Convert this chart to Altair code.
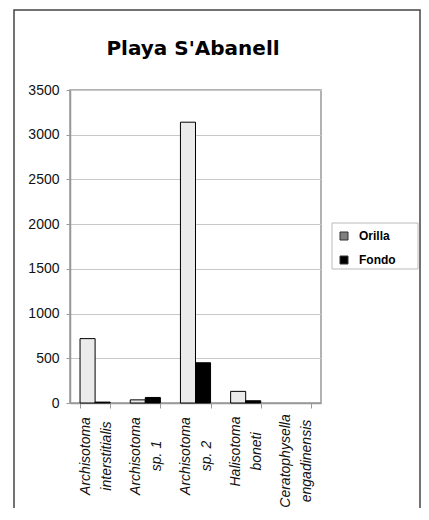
import altair as alt
import pandas as pd

# ---- data ----
species = [
    "Archisotoma interstitialis",
    "Archisotoma sp. 1",
    "Archisotoma sp. 2",
    "Halisotoma boneti",
    "Ceratophysella engadinensis",
]
series = ["Orilla", "Fondo"]
orilla = [720, 35, 3140, 130, 0]
fondo = [10, 62, 450, 25, 0]
y_ticks = [0, 500, 1000, 1500, 2000, 2500, 3000, 3500]
chart_title = "Playa S'Abanell"

rows = []
for sp, o, f in zip(species, orilla, fondo):
    rows.append({"Especie": sp, "Zona": "Orilla", "Serie": "Orilla", "N": o})
    rows.append({"Especie": sp, "Zona": "Fondo", "Serie": "Fondo", "N": f})
df = pd.DataFrame(rows)
df_bars = df[df["N"] > 0]

W, H = 251, 313
FONT = "Liberation Sans"

pad_expr = ("datum.value == 'Halisotoma boneti' ? 43 : "
            "(datum.value == 'Ceratophysella engadinensis' ? 52.5 : 47.5)")

x_enc = alt.X(
    "Especie:N",
    sort=species,
    title=None,
    scale=alt.Scale(domain=species, paddingInner=0.4, paddingOuter=0.2),
    axis=alt.Axis(
        labelAngle=270,
        labelAlign="center",
        labelBaseline="middle",
        labelFont=FONT,
        labelFontStyle="italic",
        labelFontSize=14,
        labelLineHeight=21,
        labelColor="#111111",
        labelExpr="[slice(datum.label, 0, indexof(datum.label, ' ')), slice(datum.label, indexof(datum.label, ' ') + 1)]",
        labelPadding={"expr": pad_expr},
        labelOffset=-10,
        labelOverlap=False,
        tickBand="extent",
        tickSize=5,
        tickColor="#999999",
        domainColor="#999999",
        domainWidth=1.5,
        grid=False,
    ),
)
y_enc = alt.Y(
    "N:Q",
    title=None,
    scale=alt.Scale(domain=[0, 3500], nice=False),
    axis=alt.Axis(
        values=y_ticks,
        format="d",
        labelFont=FONT,
        labelFontSize=14,
        labelColor="#111111",
        labelPadding=7,
        tickSize=4,
        tickColor="#999999",
        domainColor="#999999",
        domainWidth=1.5,
        gridColor="#c8c8c8",
        gridWidth=1,
    ),
)

bars = alt.Chart(df_bars).mark_bar(stroke="black", strokeWidth=1).encode(
    x=x_enc,
    xOffset=alt.XOffset("Zona:N", sort=series,
                        scale=alt.Scale(domain=series, paddingInner=0, paddingOuter=0)),
    y=y_enc,
    fill=alt.Fill("Zona:N", scale=alt.Scale(domain=series, range=["#ebebeb", "#000000"]),
                  legend=None),
)

legend_layer = alt.Chart(df).mark_square(opacity=0, size=64).encode(
    x=x_enc,
    y=y_enc,
    color=alt.Color(
        "Serie:N",
        scale=alt.Scale(domain=series, range=["#808080", "#000000"]),
        legend=alt.Legend(
            title=None,
            orient="none",
            legendX=268,
            legendY=140,
            padding=0,
            symbolType="square",
            symbolSize=64,
            symbolOpacity=1,
            symbolStrokeColor="#333333",
            symbolStrokeWidth=1,
            labelFont=FONT,
            labelFontSize=12,
            labelFontWeight="bold",
            labelColor="#000000",
            labelOffset=9,
            rowPadding=12,
        ),
    ),
)

one = pd.DataFrame({"t": [chart_title]})

title_layer = alt.Chart(one).mark_text(
    font="DejaVu Sans", fontSize=20, fontWeight="bold", color="black",
    align="center", baseline="alphabetic",
).encode(text="t:N", x=alt.value(123), y=alt.value(-35.5))

legend_box = alt.Chart(one).mark_rect(
    fill="transparent", stroke="#bbbbbb", strokeWidth=1
).encode(x=alt.value(262), x2=alt.value(348), y=alt.value(133), y2=alt.value(179))

outer_frame = alt.Chart(one).mark_rect(
    fill="transparent", stroke="#444444", strokeWidth=1.5
).encode(x=alt.value(-56), x2=alt.value(350), y=alt.value(-80), y2=alt.value(440))

chart = alt.layer(outer_frame, legend_box, bars, legend_layer, title_layer).resolve_scale(
    color="independent", fill="independent"
).properties(
    width=W,
    height=H,
    autosize=alt.AutoSizeParams(type="none"),
    padding={"left": 62, "top": 82, "right": 100, "bottom": 105},
    background="white",
).configure_view(stroke="#999999", strokeWidth=1.5)

chart.save("out.html", embed_options={"renderer": "svg", "actions": False})
